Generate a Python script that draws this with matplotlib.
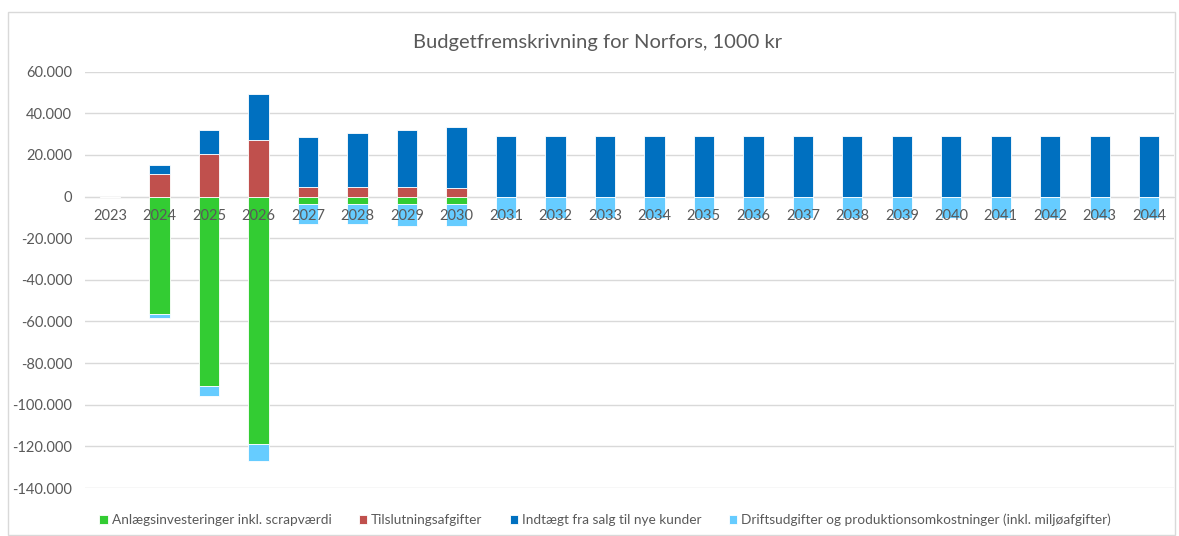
import matplotlib
matplotlib.use("Agg")
import matplotlib.pyplot as plt
from matplotlib.ticker import FuncFormatter, MultipleLocator
from matplotlib.patches import Rectangle
import numpy as np

plt.rcParams['font.family'] = ['Lato', 'DejaVu Sans']

years = [str(y) for y in range(2023, 2045)]
anlaeg = [0, -56600, -91100, -118800, -3700, -3700, -3700, -3700] + [0] * 14
tilslutning = [0, 10800, 20300, 27300, 4800, 4800, 4800, 4100] + [0] * 14
indtaegt = [0, 4200, 11800, 22200, 24000, 25600, 27300, 29500] + [29200] * 14
drift = [0, -1800, -4800, -8300, -9250, -9700, -10200, -10400] + [-10500] * 14

labels = ["Anlægsinvesteringer inkl. scrapværdi", "Tilslutningsafgifter",
          "Indtægt fra salg til nye kunder",
          "Driftsudgifter og produktionsomkostninger (inkl. miljøafgifter)"]
colors = ["#33CC33", "#C0504D", "#0070C0", "#66CCFF"]

txt = "#595959"
grid = "#D9D9D9"

fig = plt.figure(figsize=(11.79, 5.36), dpi=100)
ax = fig.add_axes([85.3 / 1179, 48 / 536, (1174 - 85.3) / 1179, (488 - 71.7) / 536])

x = np.arange(len(years))
w = 0.41
a = np.array(anlaeg)
t = np.array(tilslutning)
i = np.array(indtaegt)
d = np.array(drift)
ek = dict(edgecolor="white", linewidth=0.6, zorder=3)
b1 = ax.bar(x, a, w, color=colors[0], label=labels[0], **ek)
b2 = ax.bar(x, t, w, color=colors[1], label=labels[1], **ek)
b3 = ax.bar(x, i, w, bottom=t, color=colors[2], label=labels[2], **ek)
b4 = ax.bar(x, d, w, bottom=a, color=colors[3], label=labels[3], **ek)

ax.set_ylim(-140000, 60000)
ax.set_xlim(-0.5, len(years) - 0.5)
ax.yaxis.set_major_locator(MultipleLocator(20000))
ax.yaxis.set_major_formatter(FuncFormatter(lambda v, p: f"{int(v):,}".replace(",", ".")))
ax.grid(axis="y", color=grid, linewidth=1)
ax.set_axisbelow(True)
ax.xaxis.set_zorder(5)
for s in ["top", "right", "left"]:
    ax.spines[s].set_visible(False)
ax.spines["bottom"].set_position(("data", 0))
ax.spines["bottom"].set_color(grid)
ax.spines["bottom"].set_zorder(1)
ax.set_xticks(x)
ax.set_xticklabels(years)
ax.tick_params(axis="x", length=0, pad=9, labelsize=10.5, labelcolor=txt)
ax.tick_params(axis="y", length=0, pad=9.5, labelsize=10.5, labelcolor=txt)

fig.text(598 / 1179, 1 - 42 / 536, "Budgetfremskrivning for Norfors, 1000 kr",
         ha="center", va="center", fontsize=14.5, color=txt)

fig.legend(handles=[b1, b2, b3, b4], labels=labels, loc="center",
           bbox_to_anchor=(605 / 1179, 1 - 520 / 536), ncol=4, frameon=False,
           fontsize=9.8, labelcolor=txt, handlelength=0.6, handleheight=0.6,
           handletextpad=0.3, columnspacing=2.0)

fig.add_artist(Rectangle((8 / 1179, 1 - 535 / 536), (1175 - 8) / 1179, (535 - 12) / 536,
                         transform=fig.transFigure, fill=False, edgecolor=grid, linewidth=1))

fig.savefig("out.png", dpi=100, facecolor="white")
